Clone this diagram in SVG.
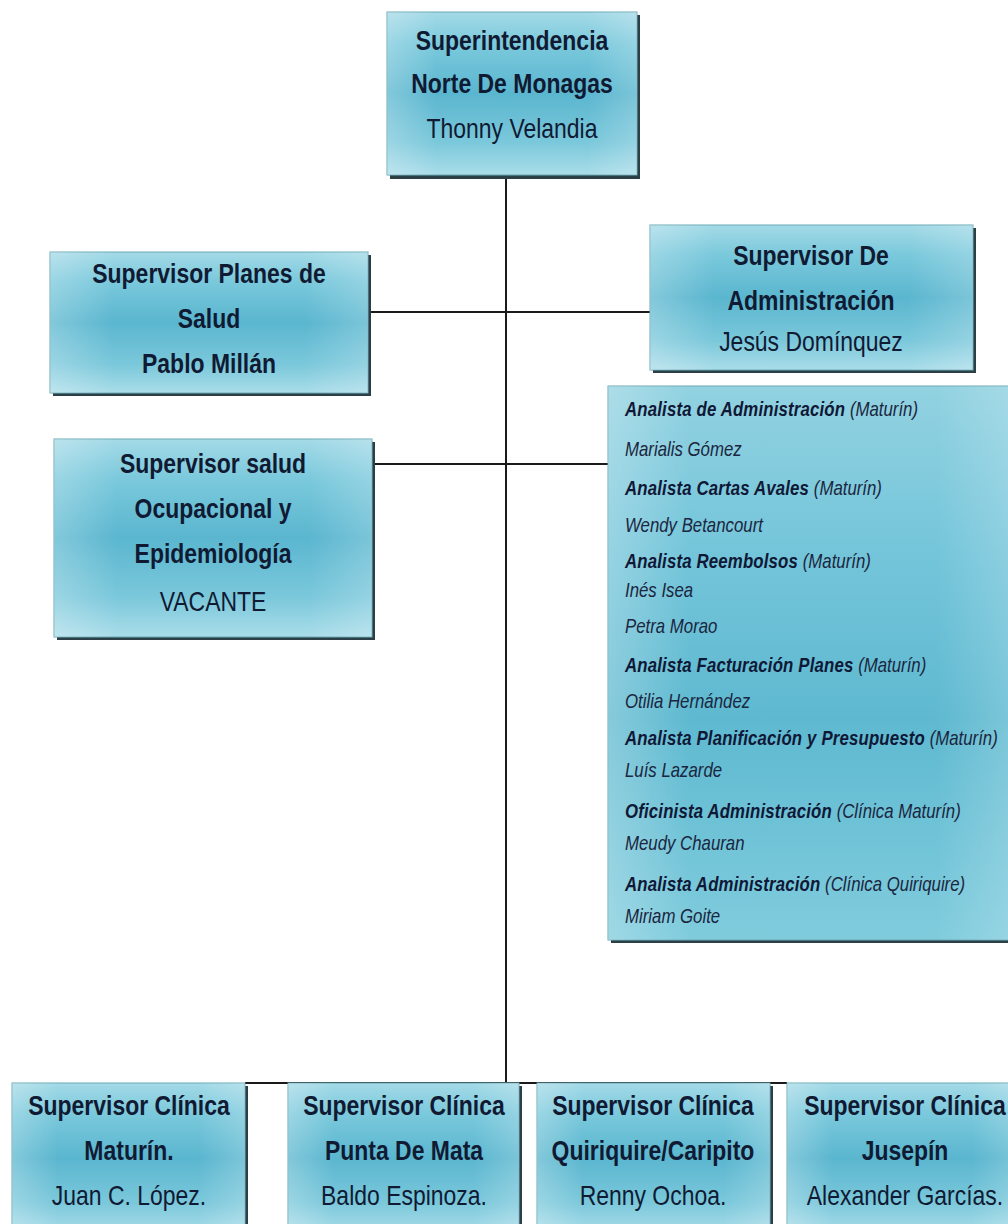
<svg xmlns="http://www.w3.org/2000/svg" width="1008" height="1224" viewBox="0 0 1008 1224">
<defs>
<linearGradient id="boxg" x1="0" y1="0" x2="0" y2="1">
<stop offset="0" stop-color="#a4dae7"/>
<stop offset="0.2" stop-color="#7bc9dc"/>
<stop offset="0.5" stop-color="#5ab6cf"/>
<stop offset="0.8" stop-color="#7bc8db"/>
<stop offset="1" stop-color="#aadde9"/>
</linearGradient>
<linearGradient id="sideg" x1="0" y1="0" x2="1" y2="0">
<stop offset="0" stop-color="#ffffff" stop-opacity="0.25"/>
<stop offset="0.2" stop-color="#ffffff" stop-opacity="0"/>
<stop offset="0.8" stop-color="#ffffff" stop-opacity="0"/>
<stop offset="1" stop-color="#ffffff" stop-opacity="0.2"/>
</linearGradient>
<linearGradient id="listg" x1="0" y1="0" x2="0" y2="1">
<stop offset="0" stop-color="#92d2e1"/>
<stop offset="0.3" stop-color="#74c5da"/>
<stop offset="0.6" stop-color="#5eb9d0"/>
<stop offset="1" stop-color="#80ccdd"/>
</linearGradient>
</defs>
<style>
.sh{fill:#2b4046}
.bx{fill:url(#boxg);stroke:#6aa9b6;stroke-width:1}
.ov{fill:url(#sideg)}
.t{font-family:"Liberation Sans",Arial,sans-serif;font-size:28px;fill:#101a33;text-anchor:middle}
.b{font-weight:bold}
.l{font-family:"Liberation Sans",Arial,sans-serif;font-size:20.5px;font-style:italic;fill:#1b2640}
.lb{font-weight:bold;fill:#0f1836;letter-spacing:0.2px}
.c{stroke:#1a1a1a;stroke-width:2;fill:none}
</style>
<rect width="1008" height="1224" fill="#ffffff"/>
<g id="connectors">
<line class="c" x1="506" y1="175" x2="506" y2="1083"/>
<line class="c" x1="368" y1="312" x2="650" y2="312"/>
<line class="c" x1="372" y1="464" x2="608" y2="464"/>
<line class="c" x1="245" y1="1083" x2="787" y2="1083"/>
</g>
<g id="n-superintendencia">
<rect class="sh" x="390" y="15" width="250" height="164"/>
<rect class="bx" x="387" y="12" width="250" height="163"/>
<rect class="ov" x="387" y="12" width="250" height="163"/>
<g transform="matrix(0.82 0 0 1 92.16 0)">
<text class="t b" x="512" y="50">Superintendencia</text>
<text class="t b" x="512" y="93">Norte De Monagas</text>
<text class="t" x="512" y="138">Thonny Velandia</text>
</g>
</g>
<g id="n-planes">
<rect class="sh" x="53" y="255" width="318" height="141"/>
<rect class="bx" x="50" y="252" width="318" height="141"/>
<rect class="ov" x="50" y="252" width="318" height="141"/>
<g transform="matrix(0.82 0 0 1 37.62 0)">
<text class="t b" x="209" y="283">Supervisor Planes de</text>
<text class="t b" x="209" y="328">Salud</text>
<text class="t b" x="209" y="373">Pablo Millán</text>
</g>
</g>
<g id="n-administracion">
<rect class="sh" x="653" y="228" width="323" height="145"/>
<rect class="bx" x="650" y="225" width="323" height="145"/>
<rect class="ov" x="650" y="225" width="323" height="145"/>
<g transform="matrix(0.82 0 0 1 145.98 0)">
<text class="t b" x="811" y="265">Supervisor De</text>
<text class="t b" x="811" y="310">Administración</text>
<text class="t" x="811" y="351">Jesús Domínquez</text>
</g>
</g>
<g id="n-analistas">
<rect class="sh" x="611" y="389" width="410" height="554"/>
<rect x="608" y="386" width="410" height="554" fill="url(#listg)" stroke="#6aa9b6" stroke-width="1"/>
<rect class="ov" x="608" y="386" width="410" height="554"/>
<g transform="matrix(0.82 0 0 1 112.5 0)">
<text class="l" x="625" y="416"><tspan class="lb">Analista de Administración</tspan> (Maturín)</text>
<text class="l" x="625" y="456">Marialis Gómez</text>
<text class="l" x="625" y="495"><tspan class="lb">Analista Cartas Avales</tspan> (Maturín)</text>
<text class="l" x="625" y="532">Wendy Betancourt</text>
<text class="l" x="625" y="568"><tspan class="lb">Analista Reembolsos</tspan> (Maturín)</text>
<text class="l" x="625" y="597">Inés Isea</text>
<text class="l" x="625" y="633">Petra Morao</text>
<text class="l" x="625" y="672"><tspan class="lb">Analista Facturación Planes</tspan> (Maturín)</text>
<text class="l" x="625" y="708">Otilia Hernández</text>
<text class="l" x="625" y="745"><tspan class="lb">Analista Planificación y Presupuesto</tspan> (Maturín)</text>
<text class="l" x="625" y="777">Luís Lazarde</text>
<text class="l" x="625" y="818"><tspan class="lb">Oficinista Administración</tspan> (Clínica Maturín)</text>
<text class="l" x="625" y="850">Meudy Chauran</text>
<text class="l" x="625" y="891"><tspan class="lb">Analista Administración</tspan> (Clínica Quiriquire)</text>
<text class="l" x="625" y="923">Miriam Goite</text>
</g>
</g>
<g id="n-ocupacional">
<rect class="sh" x="57" y="442" width="318" height="198"/>
<rect class="bx" x="54" y="439" width="318" height="198"/>
<rect class="ov" x="54" y="439" width="318" height="198"/>
<g transform="matrix(0.82 0 0 1 38.34 0)">
<text class="t b" x="213" y="473">Supervisor salud</text>
<text class="t b" x="213" y="518">Ocupacional y</text>
<text class="t b" x="213" y="563">Epidemiología</text>
<text class="t" x="213" y="611">VACANTE</text>
</g>
</g>
<g id="n-maturin">
<rect class="sh" x="15" y="1086" width="233" height="150"/>
<rect class="bx" x="12" y="1083" width="233" height="150"/>
<rect class="ov" x="12" y="1083" width="233" height="150"/>
<g transform="matrix(0.82 0 0 1 23.22 0)">
<text class="t b" x="129" y="1115">Supervisor Clínica</text>
<text class="t b" x="129" y="1160">Maturín.</text>
<text class="t" x="129" y="1205">Juan C. López.</text>
</g>
</g>
<g id="n-puntademata">
<rect class="sh" x="291" y="1086" width="231" height="150"/>
<rect class="bx" x="288" y="1083" width="231" height="150"/>
<rect class="ov" x="288" y="1083" width="231" height="150"/>
<g transform="matrix(0.82 0 0 1 72.72 0)">
<text class="t b" x="404" y="1115">Supervisor Clínica</text>
<text class="t b" x="404" y="1160">Punta De Mata</text>
<text class="t" x="404" y="1205">Baldo Espinoza.</text>
</g>
</g>
<g id="n-quiriquire">
<rect class="sh" x="540" y="1086" width="233" height="150"/>
<rect class="bx" x="537" y="1083" width="233" height="150"/>
<rect class="ov" x="537" y="1083" width="233" height="150"/>
<g transform="matrix(0.82 0 0 1 117.54 0)">
<text class="t b" x="653" y="1115">Supervisor Clínica</text>
<text class="t b" x="653" y="1160">Quiriquire/Caripito</text>
<text class="t" x="653" y="1205">Renny Ochoa.</text>
</g>
</g>
<g id="n-jusepin">
<rect class="sh" x="790" y="1086" width="230" height="150"/>
<rect class="bx" x="787" y="1083" width="230" height="150"/>
<rect class="ov" x="787" y="1083" width="230" height="150"/>
<g transform="matrix(0.82 0 0 1 162.9 0)">
<text class="t b" x="905" y="1115">Supervisor Clínica</text>
<text class="t b" x="905" y="1160">Jusepín</text>
<text class="t" x="905" y="1205">Alexander Garcías.</text>
</g>
</g>
</svg>
